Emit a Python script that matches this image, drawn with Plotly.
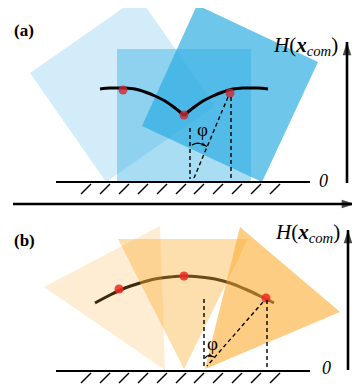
import plotly.graph_objects as go

# ---------------- data (pixel-space schematic) ----------------
# panel (a): rolling squares (corner coordinates)
sq_x = [[30, 139, 215, 106], [117, 251, 251, 117], [142, 197, 318, 262]]
sq_y = [[73, -3, 106, 182], [49, 49, 182, 182], [126, 5, 62, 182]]
sq_alpha = [0.21, 0.40, 0.68]

# COM height curve (a), two branches meeting at a cusp
curve_a1_x = [100, 110, 117, 125, 135, 145, 155, 165, 175, 184]
curve_a1_y = [89, 88, 88, 88, 89, 92, 96, 101, 108, 115.5]
curve_a2_x = [184, 193, 203, 213, 223, 233, 243, 251, 258, 268]
curve_a2_y = [115.5, 108, 101, 96, 92, 89, 88, 88, 88, 89]
dots_a_x = [123, 184, 230]
dots_a_y = [90, 115, 93]

# panel (b): rolling triangles
tri_x = [[44, 160, 165], [118, 248, 184], [205, 240, 340]]
tri_y = [[287, 226, 370], [239, 239, 369], [369, 227, 312]]
tri_alpha = [0.23, 0.42, 0.63]

curve_b_x = [95, 110, 125, 140, 155, 170, 184, 200, 215, 230, 245, 260, 274]
curve_b_y = [303, 295, 288, 283, 279, 277, 276, 277, 279, 283, 289, 296, 303]
dots_b_x = [119, 184, 266]
dots_b_y = [289, 276, 298]

# dashed construction lines (x0, y0, x1, y1)
dashed_a = [(190, 128, 190, 179), (228, 97, 194, 178), (231, 97, 231, 182)]
dashed_b = [(204, 299, 204, 369), (263, 302, 207, 366), (267, 300, 267, 371)]
phi_arrow_a_x = [192, 195, 198, 202, 207]
phi_arrow_a_y = [145, 143.6, 143.2, 144, 146.5]
phi_arrow_b_x = [205, 207, 210, 214]
phi_arrow_b_y = [358, 356, 355.6, 357]

# ground
ground_y = [182, 371]
ground_x = [56, 310]
hatch_x = [81, 100, 119, 138, 157, 176, 194, 213, 232, 251, 270]

# axis arrows (tail x, tail y, tip x, tip y)
axis_arrows = [(13, 204, 355, 204), (347, 183, 347, 42), (348, 370, 348, 230)]

BLUE = (41, 171, 226)
ORANGE = (251, 176, 59)
SERIF = "Liberation Serif, Times New Roman, serif"

# page body has an 8px margin: shift the visible window accordingly
OFF = 8
W, H = 360, 387

fig = go.Figure()


def rgba(c, a):
    return f"rgba({c[0]},{c[1]},{c[2]},{a})"


def poly(xs, ys, color):
    fig.add_trace(go.Scatter(x=xs + [xs[0]], y=ys + [ys[0]], mode="lines",
                             fill="toself", fillcolor=color,
                             line=dict(width=0), hoverinfo="skip"))


def seg(x0, y0, x1, y1, width=1.6, dash="solid", color="black"):
    fig.add_trace(go.Scatter(x=[x0, x1], y=[y0, y1], mode="lines",
                             line=dict(color=color, width=width, dash=dash),
                             hoverinfo="skip"))


def arrow_path(xs, ys, width, size):
    fig.add_trace(go.Scatter(x=xs, y=ys, mode="lines+markers",
                             line=dict(color="black", width=width),
                             marker=dict(symbol=["circle"] * (len(xs) - 1) + ["arrow"],
                                         size=[0] * (len(xs) - 1) + [size],
                                         angleref="previous", color="black",
                                         line=dict(width=0)),
                             hoverinfo="skip"))


# ---- panel (a) ----
for xs, ys, a in zip(sq_x, sq_y, sq_alpha):
    poly(xs, ys, rgba(BLUE, a))
for xs, ys in [(curve_a1_x, curve_a1_y), (curve_a2_x, curve_a2_y)]:
    fig.add_trace(go.Scatter(x=xs, y=ys, mode="lines",
                             line=dict(color="black", width=3, shape="spline"),
                             hoverinfo="skip"))
fig.add_trace(go.Scatter(x=dots_a_x, y=dots_a_y, mode="markers",
                         marker=dict(size=9, color="rgba(205,40,50,0.8)"), hoverinfo="skip"))

# ---- panel (b) ----
fig.add_trace(go.Scatter(x=curve_b_x, y=curve_b_y, mode="lines",
                         line=dict(color="black", width=3, shape="spline"), hoverinfo="skip"))
for xs, ys, a in zip(tri_x, tri_y, tri_alpha):
    poly(xs, ys, rgba(ORANGE, a))
fig.add_trace(go.Scatter(x=dots_b_x, y=dots_b_y, mode="markers",
                         marker=dict(size=9, color="rgba(240,40,35,0.85)"), hoverinfo="skip"))

# dashed lines and angle arrows
for d in dashed_a + dashed_b:
    seg(*d, width=1.4, dash="4px,3px")
arrow_path(phi_arrow_a_x, phi_arrow_a_y, 1.2, 6)
arrow_path(phi_arrow_b_x, phi_arrow_b_y, 1.2, 6)

# ground + hatches
for g in ground_y:
    seg(ground_x[0], g, ground_x[1], g, width=2)
    for hx in hatch_x:
        seg(hx, g + 12, hx + 10, g + 2, width=1.4)

# axes arrows: shaft as solid line, head as arrow marker
for x0, y0, x1, y1 in axis_arrows:
    seg(x0, y0, x1, y1, width=2.6)
    fig.add_trace(go.Scatter(x=[x0, x1], y=[y0, y1], mode="markers",
                             marker=dict(symbol=["circle", "arrow"], size=[0, 14],
                                         angleref="previous", color="black",
                                         line=dict(width=0)),
                             hoverinfo="skip"))

texts = [
    dict(x=24, y=30, text="<b>(a)</b>", size=17, anchor="center"),
    dict(x=24, y=240, text="<b>(b)</b>", size=17, anchor="center"),
    dict(x=323, y=181, text="<i>0</i>", size=18, anchor="center"),
    dict(x=326, y=368, text="<i>0</i>", size=18, anchor="center"),
    dict(x=202, y=129, text="φ", size=19, anchor="center"),
    dict(x=212, y=343, text="φ", size=19, anchor="center"),
    dict(x=351, y=215, text="φ", size=20, anchor="left"),
    dict(x=305, y=46, text="<i>H</i>(<b><i>x</i></b><sub><i>com</i></sub>)", size=21, anchor="center"),
    dict(x=307, y=233, text="<i>H</i>(<b><i>x</i></b><sub><i>com</i></sub>)", size=21, anchor="center"),
]
for t in texts:
    fig.add_annotation(x=t["x"], y=t["y"], xref="x", yref="y", text=t["text"], showarrow=False,
                       font=dict(family=SERIF, size=t["size"], color="black"),
                       xanchor=t["anchor"], yanchor="middle")

fig.update_layout(
    width=W - OFF, height=H - OFF, autosize=False,
    margin=dict(l=0, r=0, t=0, b=0),
    paper_bgcolor="white", plot_bgcolor="white",
    showlegend=False,
    xaxis=dict(range=[OFF, W], visible=False, fixedrange=True),
    yaxis=dict(range=[H, OFF], visible=False, fixedrange=True),
)

fig.write_html("out.html")
